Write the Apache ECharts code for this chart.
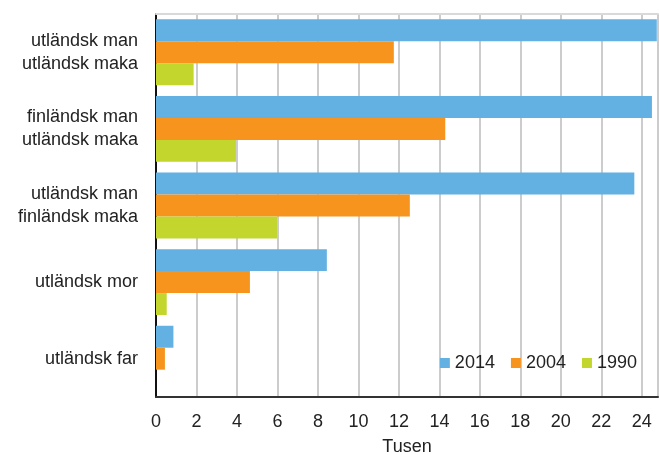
<!DOCTYPE html>
<html>
<head>
<meta charset="utf-8">
<script src="https://cdn.jsdelivr.net/npm/echarts@6/dist/echarts.min.js"></script>
<style>
  html, body { margin: 0; padding: 0; background: #fff; }
  #main { width: 659px; height: 455px; }
</style>
</head>
<body>
<div id="main"></div>
<script>
// categories top to bottom
const categories = [
  "utländsk man\nutländsk maka",
  "finländsk man\nutländsk maka",
  "utländsk man\nfinländsk maka",
  "utländsk mor",
  "utländsk far"
];
const years = ["2014", "2004", "1990"];
const values2014 = [24.74, 24.5, 23.63, 8.44, 0.86];
const values2004 = [11.75, 14.29, 12.54, 4.64, 0.44];
const values1990 = [1.86, 3.95, 5.98, 0.53, 0];
const colors = ["#63b0e3", "#f7941e", "#c2d62e"];

const font = "Liberation Sans, Arial, sans-serif";
const mychart = echarts.init(document.getElementById("main"));
mychart.setOption({
  animation: false,
  color: colors,
  textStyle: { fontFamily: font },
  grid: { left: 156, right: 1, top: 14, bottom: 58, outerBoundsMode: "none", containLabel: false },
  legend: {
    data: years,
    right: 17,
    top: 349,
    itemWidth: 10,
    itemHeight: 10,
    itemGap: 16,
    icon: "rect",
    textStyle: { fontSize: 18, color: "#222", fontFamily: font }
  },
  xAxis: [
    {
      type: "value",
      min: 0,
      max: 24.8,
      interval: 2,
      name: "Tusen",
      nameLocation: "middle",
      nameGap: 41,
      nameTextStyle: { fontSize: 18, color: "#222", fontFamily: font },
      axisLine: { show: true, lineStyle: { color: "#333", width: 2 } },
      axisTick: { show: false },
      axisLabel: { fontSize: 18, color: "#222", margin: 16, showMaxLabel: false, fontFamily: font },
      splitLine: { show: true, lineStyle: { color: "#cccccc", width: 2 } }
    },
    {
      type: "value",
      position: "top",
      min: 0,
      max: 24.8,
      axisLine: { show: true, lineStyle: { color: "#d9d9d9", width: 2 } },
      axisTick: { show: false },
      axisLabel: { show: false },
      splitLine: { show: false }
    }
  ],
  yAxis: {
    type: "category",
    data: categories,
    inverse: true,
    axisLine: { show: true, lineStyle: { color: "#111", width: 2 } },
    axisTick: { show: false },
    axisLabel: { fontSize: 18, color: "#222", margin: 18, lineHeight: 23, fontFamily: font }
  },
  series: [
    { name: "2014", type: "bar", data: values2014, barCategoryGap: "14%", barGap: "0%" },
    { name: "2004", type: "bar", data: values2004, barCategoryGap: "14%", barGap: "0%" },
    { name: "1990", type: "bar", data: values1990, barCategoryGap: "14%", barGap: "0%" }
  ]
});
</script>
</body>
</html>
